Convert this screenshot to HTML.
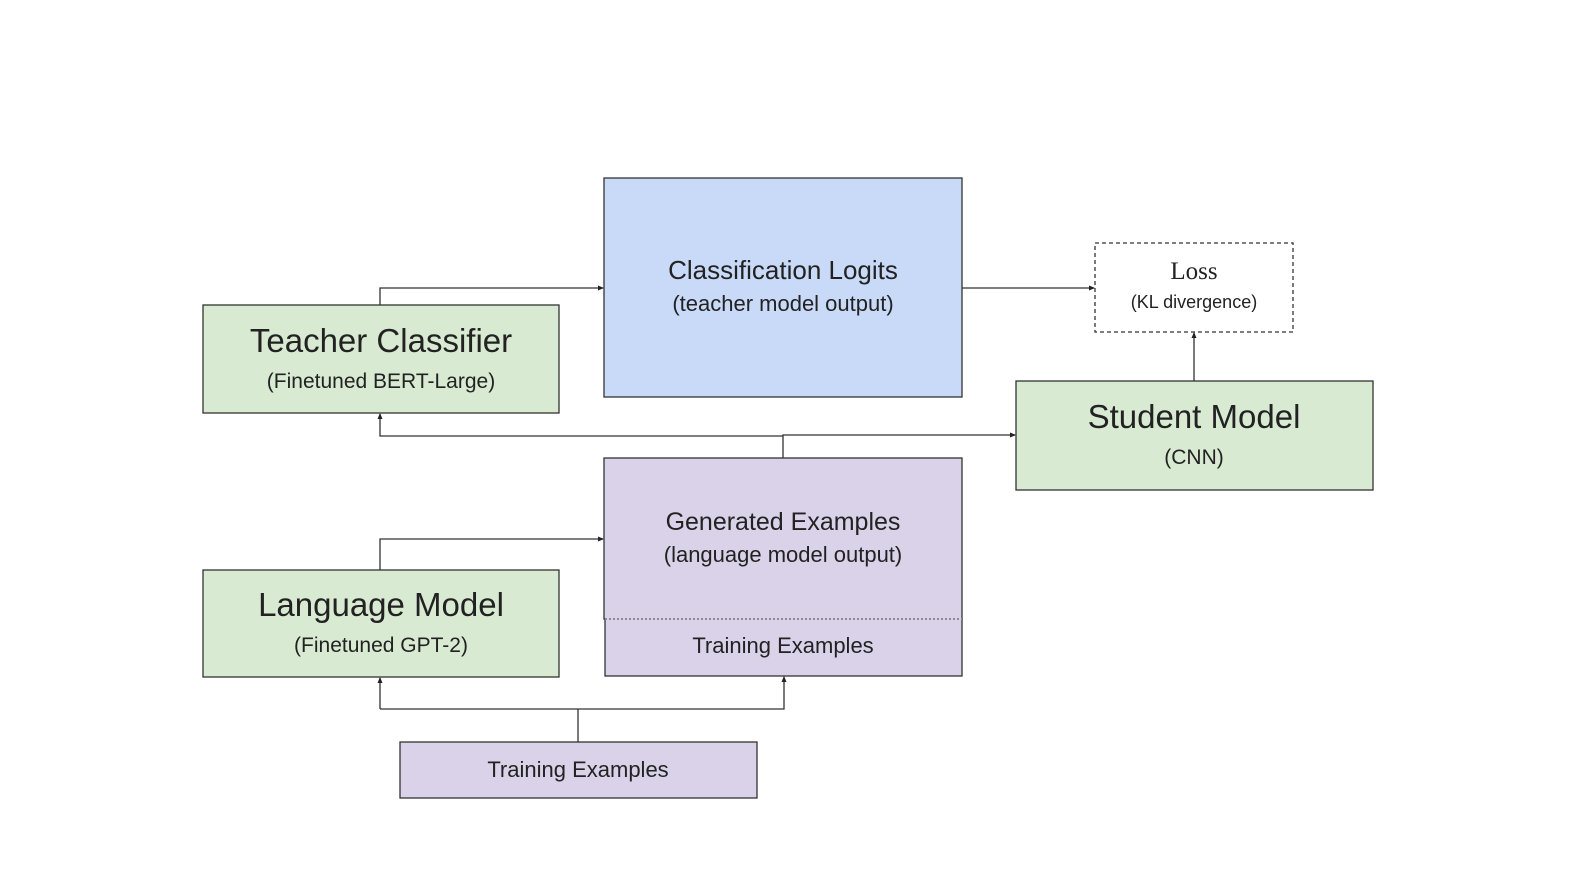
<!DOCTYPE html>
<html><head><meta charset="utf-8"><style>html,body{margin:0;padding:0;background:#fff}svg{display:block}text{font-family:"Liberation Sans",sans-serif;fill:#222;text-anchor:middle}</style></head>
<body>
<svg width="1580" height="884" viewBox="0 0 1580 884" xmlns="http://www.w3.org/2000/svg">
<defs><marker id="a" markerWidth="6" markerHeight="6" refX="5" refY="3" orient="auto" markerUnits="userSpaceOnUse"><path d="M0,0.5 L6,3 L0,5.5z" fill="#222"/></marker></defs>
<g stroke="#333" stroke-width="1.3">
<rect x="604" y="178" width="358" height="219" fill="#c9daf8"/>
<rect x="1095" y="243" width="198" height="89" fill="#fff" stroke-dasharray="4,3"/>
<rect x="203" y="305" width="356" height="108" fill="#d9ead3"/>
<rect x="1016" y="381" width="357" height="109" fill="#d9ead3"/>
<rect x="604" y="458" width="358" height="161" fill="#d9d2e9"/>
<rect x="605" y="619" width="357" height="57" fill="#d9d2e9"/>
<rect x="203" y="570" width="356" height="107" fill="#d9ead3"/>
<rect x="400" y="742" width="357" height="56" fill="#d9d2e9"/>
</g>
<line x1="605" y1="619" x2="962" y2="619" stroke="#d9d2e9" stroke-width="2"/>
<line x1="605" y1="619" x2="962" y2="619" stroke="#444" stroke-width="1" stroke-dasharray="2,2"/>
<g stroke="#333" stroke-width="1.3" fill="none">
<polyline points="380,305 380,288 603,288" marker-end="url(#a)"/>
<line x1="962" y1="288" x2="1094" y2="288" marker-end="url(#a)"/>
<line x1="1194" y1="381" x2="1194" y2="333" marker-end="url(#a)"/>
<polyline points="783,458 783,435 1015,435" marker-end="url(#a)"/>
<polyline points="783,436 380,436 380,414" marker-end="url(#a)"/>
<polyline points="380,570 380,539 603,539" marker-end="url(#a)"/>
<line x1="578" y1="742" x2="578" y2="709"/>
<polyline points="380,709 380,678" marker-end="url(#a)"/>
<polyline points="380,709 784,709 784,677" marker-end="url(#a)"/>
</g>
<text x="783" y="279" font-size="26">Classification Logits</text>
<text x="783" y="311" font-size="22">(teacher model output)</text>
<text x="1194" y="279" font-size="25" style="font-family:'Liberation Serif',serif">Loss</text>
<text x="1194" y="308" font-size="18">(KL divergence)</text>
<text x="381" y="352" font-size="33">Teacher Classifier</text>
<text x="381" y="388" font-size="21">(Finetuned BERT-Large)</text>
<text x="1194" y="428" font-size="33">Student Model</text>
<text x="1194" y="464" font-size="21">(CNN)</text>
<text x="783" y="530" font-size="25">Generated Examples</text>
<text x="783" y="562" font-size="22">(language model output)</text>
<text x="783" y="653" font-size="22">Training Examples</text>
<text x="381" y="616" font-size="33">Language Model</text>
<text x="381" y="652" font-size="21">(Finetuned GPT-2)</text>
<text x="578" y="777" font-size="22">Training Examples</text>
</svg>
</body></html>
